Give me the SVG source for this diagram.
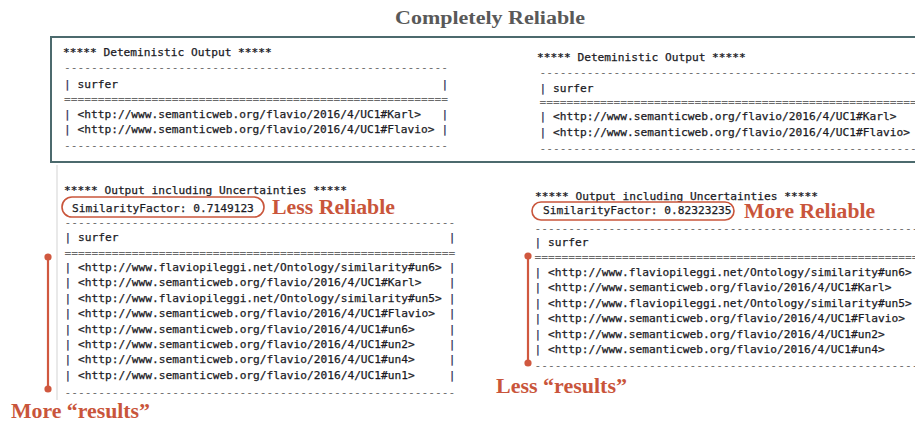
<svg xmlns="http://www.w3.org/2000/svg" width="915" height="424" viewBox="0 0 915 424">
  <style>
    .mono { font-family: "DejaVu Sans Mono", "Liberation Mono", monospace; font-size: 11.2px; fill: #1a1a24; stroke: #1a1a24; stroke-width: 0.25; white-space: pre; }
    .rule { fill: #6a6a6a; stroke: none; }
    .pipe { fill: #2e2e55; stroke: #2e2e55; }
    .title { font-family: "Liberation Serif", serif; font-weight: bold; font-size: 18px; fill: #595959; }
    .note { font-family: "Liberation Serif", serif; font-weight: bold; font-size: 20px; fill: #c9553b; }
    .oval { fill: none; stroke: #c9553b; stroke-width: 1.6; }
    .bar { stroke: #d0583f; stroke-width: 2.2; }
    .dot { fill: #d0583f; }
    .frame { fill: none; stroke: #4c6a6d; stroke-width: 2; }
  </style>

  <rect width="915" height="424" fill="#ffffff"/>

  <!-- page heading -->
  <text class="title" x="490" y="24" text-anchor="middle" textLength="190" lengthAdjust="spacingAndGlyphs">Completely Reliable</text>

  <!-- frame around the deterministic outputs -->
  <rect id="deterministic-frame" class="frame" x="51" y="37" width="880" height="125"/>

  <!-- faint edge of the console window -->
  <line x1="57" y1="165" x2="57" y2="400" stroke="#e2e2e2" stroke-width="1.5"/>

  <!-- deterministic output, left -->
  <g id="det-left" class="mono" xml:space="preserve">
    <text x="63" y="56">***** Deteministic Output *****</text>
    <text class="mono rule" x="64" y="70.5">---------------------------------------------------------</text>
    <text x="64" y="88"><tspan class="pipe">|</tspan> surfer</text>
    <text class="mono rule" x="64" y="102.5">=========================================================</text>
    <text x="64" y="118"><tspan class="pipe">|</tspan> &lt;http://www.semanticweb.org/flavio/2016/4/UC1#Karl&gt;</text>
    <text x="64" y="133"><tspan class="pipe">|</tspan> &lt;http://www.semanticweb.org/flavio/2016/4/UC1#Flavio&gt;</text>
    <text class="mono rule" x="64" y="148.5">---------------------------------------------------------</text>
    <text class="mono pipe" x="441.6" y="88">|</text>
    <text class="mono pipe" x="441.6" y="118">|</text>
    <text class="mono pipe" x="441.6" y="133">|</text>
  </g>

  <!-- deterministic output, right -->
  <g id="det-right" class="mono" xml:space="preserve">
    <text x="537" y="61">***** Deteministic Output *****</text>
    <text class="mono rule" x="539.5" y="76">---------------------------------------------------------</text>
    <text x="539.5" y="92"><tspan class="pipe">|</tspan> surfer</text>
    <text class="mono rule" x="539.5" y="105.5">=========================================================</text>
    <text x="539.5" y="120"><tspan class="pipe">|</tspan> &lt;http://www.semanticweb.org/flavio/2016/4/UC1#Karl&gt;</text>
    <text x="539.5" y="135.5"><tspan class="pipe">|</tspan> &lt;http://www.semanticweb.org/flavio/2016/4/UC1#Flavio&gt;</text>
    <text class="mono rule" x="539.5" y="152">---------------------------------------------------------</text>
  </g>

  <!-- output with uncertainties, left -->
  <g id="unc-left" class="mono" xml:space="preserve">
    <text x="64" y="194">***** Output including Uncertainties *****</text>
    <text x="72" y="212">SimilarityFactor: 0.7149123</text>
    <text class="mono rule" x="64.5" y="225.5">----------------------------------------------------------</text>
    <text x="64.5" y="241"><tspan class="pipe">|</tspan> surfer</text>
    <text class="mono rule" x="64.5" y="256.5">==========================================================</text>
    <text x="64.5" y="271"><tspan class="pipe">|</tspan> &lt;http://www.flaviopileggi.net/Ontology/similarity#un6&gt;</text>
    <text x="64.5" y="286.4"><tspan class="pipe">|</tspan> &lt;http://www.semanticweb.org/flavio/2016/4/UC1#Karl&gt;</text>
    <text x="64.5" y="301.8"><tspan class="pipe">|</tspan> &lt;http://www.flaviopileggi.net/Ontology/similarity#un5&gt;</text>
    <text x="64.5" y="317.2"><tspan class="pipe">|</tspan> &lt;http://www.semanticweb.org/flavio/2016/4/UC1#Flavio&gt;</text>
    <text x="64.5" y="332.6"><tspan class="pipe">|</tspan> &lt;http://www.semanticweb.org/flavio/2016/4/UC1#un6&gt;</text>
    <text x="64.5" y="348"><tspan class="pipe">|</tspan> &lt;http://www.semanticweb.org/flavio/2016/4/UC1#un2&gt;</text>
    <text x="64.5" y="363.4"><tspan class="pipe">|</tspan> &lt;http://www.semanticweb.org/flavio/2016/4/UC1#un4&gt;</text>
    <text x="64.5" y="378.8"><tspan class="pipe">|</tspan> &lt;http://www.semanticweb.org/flavio/2016/4/UC1#un1&gt;</text>
    <text class="mono rule" x="64.5" y="395.5">----------------------------------------------------------</text>
    <text class="mono pipe" x="448.8" y="241">|</text>
    <text class="mono pipe" x="448.8" y="271">|</text>
    <text class="mono pipe" x="448.8" y="286.4">|</text>
    <text class="mono pipe" x="448.8" y="301.8">|</text>
    <text class="mono pipe" x="448.8" y="317.2">|</text>
    <text class="mono pipe" x="448.8" y="332.6">|</text>
    <text class="mono pipe" x="448.8" y="348">|</text>
    <text class="mono pipe" x="448.8" y="363.4">|</text>
    <text class="mono pipe" x="448.8" y="378.8">|</text>
  </g>

  <!-- output with uncertainties, right -->
  <g id="unc-right" class="mono" xml:space="preserve">
    <text x="535" y="200">***** Output including Uncertainties *****</text>
    <text x="543" y="214">SimilarityFactor: 0.82323235</text>
    <text class="mono rule" x="534.5" y="231.5">----------------------------------------------------------</text>
    <text x="534.5" y="246"><tspan class="pipe">|</tspan> surfer</text>
    <text class="mono rule" x="534.5" y="260.5">==========================================================</text>
    <text x="534.5" y="276"><tspan class="pipe">|</tspan> &lt;http://www.flaviopileggi.net/Ontology/similarity#un6&gt;</text>
    <text x="534.5" y="291.4"><tspan class="pipe">|</tspan> &lt;http://www.semanticweb.org/flavio/2016/4/UC1#Karl&gt;</text>
    <text x="534.5" y="306.8"><tspan class="pipe">|</tspan> &lt;http://www.flaviopileggi.net/Ontology/similarity#un5&gt;</text>
    <text x="534.5" y="322.2"><tspan class="pipe">|</tspan> &lt;http://www.semanticweb.org/flavio/2016/4/UC1#Flavio&gt;</text>
    <text x="534.5" y="337.6"><tspan class="pipe">|</tspan> &lt;http://www.semanticweb.org/flavio/2016/4/UC1#un2&gt;</text>
    <text x="534.5" y="353"><tspan class="pipe">|</tspan> &lt;http://www.semanticweb.org/flavio/2016/4/UC1#un4&gt;</text>
    <text class="mono rule" x="534.5" y="368.5">----------------------------------------------------------</text>
  </g>

  <!-- annotations -->
  <g id="note-less-reliable">
    <rect class="oval" x="62" y="197" width="202" height="20" rx="10"/>
    <text class="note" x="272" y="214" textLength="123" lengthAdjust="spacingAndGlyphs">Less Reliable</text>
  </g>
  <g id="note-more-reliable">
    <rect class="oval" x="532" y="202" width="202" height="18" rx="9"/>
    <text class="note" x="744" y="218" textLength="131" lengthAdjust="spacingAndGlyphs">More Reliable</text>
  </g>

  <g id="connectors">
    <line class="bar" x1="48" y1="257" x2="48" y2="389"/>
    <circle class="dot" cx="48" cy="257" r="3.6"/>
    <circle class="dot" cx="48" cy="389" r="3.6"/>
    <line class="bar" x1="528" y1="256" x2="528" y2="363"/>
    <circle class="dot" cx="528" cy="256" r="3.6"/>
    <circle class="dot" cx="528" cy="363" r="3.6"/>
  </g>

  <g id="note-more-results">
    <text class="note" x="11" y="418" textLength="139" lengthAdjust="spacingAndGlyphs">More “results”</text>
  </g>
  <g id="note-less-results">
    <text class="note" x="496" y="393" textLength="131" lengthAdjust="spacingAndGlyphs">Less “results”</text>
  </g>
</svg>
